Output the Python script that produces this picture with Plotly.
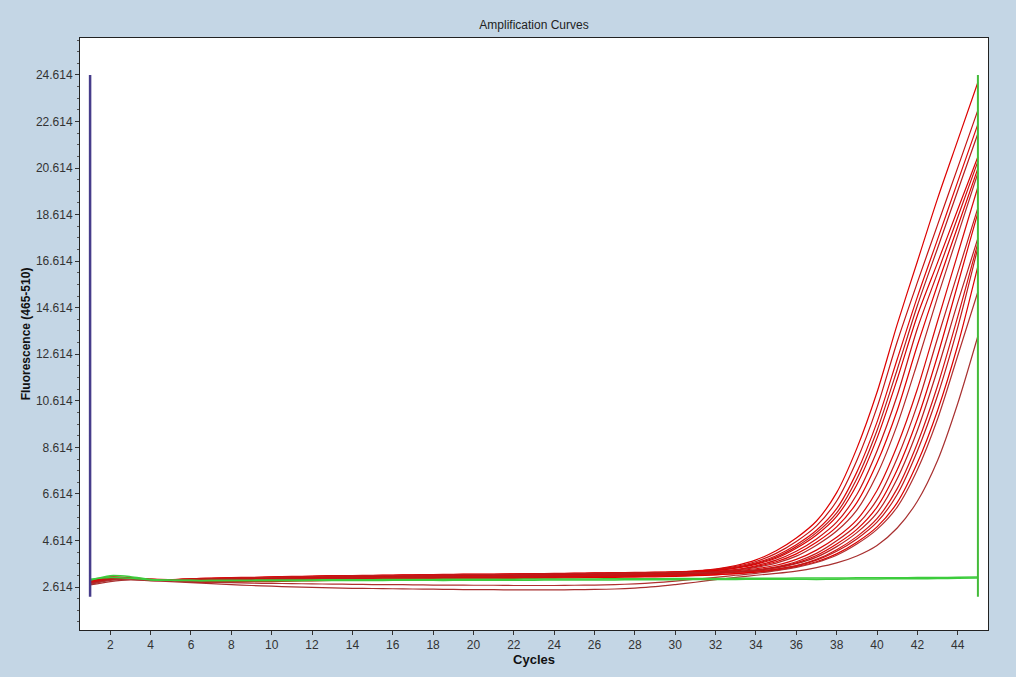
import plotly.graph_objects as go

cycles = list(range(1, 46))

red_curves = [
    [2.80, 2.98, 3.00, 2.94, 2.93, 2.96, 2.98, 3.00, 3.01, 3.03, 3.05, 3.06, 3.08, 3.09, 3.10, 3.11, 3.12, 3.13, 3.14, 3.15, 3.15, 3.16, 3.17, 3.18, 3.19, 3.20, 3.21, 3.22, 3.23, 3.25,
     3.31, 3.39, 3.54, 3.78, 4.17, 4.72, 5.45, 6.67, 8.57, 10.98, 13.90, 16.60, 19.30, 21.80, 24.30],
    [2.75, 2.95, 2.99, 2.93, 2.92, 2.93, 2.95, 2.97, 2.98, 3.00, 3.02, 3.03, 3.05, 3.06, 3.07, 3.08, 3.09, 3.10, 3.11, 3.12, 3.12, 3.13, 3.14, 3.15, 3.16, 3.17, 3.18, 3.19, 3.20, 3.22,
     3.29, 3.37, 3.50, 3.71, 4.06, 4.57, 5.24, 6.31, 8.05, 10.33, 13.15, 15.70, 18.17, 20.63, 23.10],
    [2.78, 2.97, 3.01, 2.95, 2.93, 2.97, 3.00, 3.02, 3.03, 3.05, 3.07, 3.08, 3.10, 3.11, 3.12, 3.13, 3.14, 3.15, 3.16, 3.17, 3.17, 3.18, 3.19, 3.20, 3.21, 3.22, 3.23, 3.24, 3.25, 3.27,
     3.30, 3.36, 3.46, 3.65, 3.96, 4.43, 5.05, 5.98, 7.55, 9.70, 12.40, 15.08, 17.55, 20.03, 22.50],
    [2.72, 2.93, 2.98, 2.92, 2.91, 2.90, 2.92, 2.94, 2.95, 2.97, 2.99, 3.00, 3.02, 3.03, 3.04, 3.05, 3.06, 3.07, 3.08, 3.09, 3.09, 3.10, 3.11, 3.12, 3.13, 3.14, 3.15, 3.16, 3.17, 3.19,
     3.25, 3.33, 3.44, 3.62, 3.90, 4.35, 4.95, 5.80, 7.27, 9.34, 11.96, 14.71, 17.17, 19.64, 22.10],
    [2.82, 2.99, 3.00, 2.93, 2.92, 2.95, 2.97, 2.99, 3.00, 3.02, 3.04, 3.05, 3.07, 3.08, 3.09, 3.10, 3.11, 3.12, 3.13, 3.14, 3.14, 3.15, 3.16, 3.17, 3.18, 3.19, 3.20, 3.21, 3.22, 3.24,
     3.27, 3.32, 3.42, 3.59, 3.85, 4.28, 4.85, 5.65, 7.01, 9.01, 11.54, 14.28, 16.55, 18.83, 21.10],
    [2.76, 2.94, 2.98, 2.92, 2.91, 2.88, 2.90, 2.92, 2.93, 2.95, 2.97, 2.98, 3.00, 3.01, 3.02, 3.03, 3.04, 3.05, 3.06, 3.07, 3.07, 3.08, 3.09, 3.10, 3.11, 3.12, 3.13, 3.14, 3.15, 3.17,
     3.21, 3.26, 3.35, 3.53, 3.77, 4.15, 4.68, 5.40, 6.59, 8.46, 10.84, 13.72, 16.11, 18.50, 20.90],
    [2.84, 3.00, 3.01, 2.94, 2.93, 2.97, 2.99, 3.01, 3.02, 3.04, 3.06, 3.07, 3.09, 3.10, 3.11, 3.12, 3.13, 3.14, 3.15, 3.16, 3.16, 3.17, 3.18, 3.19, 3.20, 3.21, 3.22, 3.23, 3.24, 3.26,
     3.27, 3.29, 3.36, 3.49, 3.70, 4.04, 4.54, 5.20, 6.24, 7.95, 10.20, 13.00, 15.60, 18.10, 20.60],
    [2.74, 2.96, 2.99, 2.93, 2.92, 2.91, 2.93, 2.95, 2.96, 2.98, 3.00, 3.01, 3.03, 3.04, 3.05, 3.06, 3.07, 3.08, 3.09, 3.10, 3.10, 3.11, 3.12, 3.13, 3.14, 3.15, 3.16, 3.17, 3.18, 3.20,
     3.22, 3.26, 3.34, 3.46, 3.64, 3.94, 4.41, 5.02, 5.92, 7.45, 9.58, 12.25, 15.07, 17.73, 20.40],
    [2.88, 3.03, 3.00, 2.93, 2.92, 2.92, 2.94, 2.96, 2.98, 3.00, 3.01, 3.03, 3.04, 3.06, 3.07, 3.08, 3.09, 3.10, 3.11, 3.11, 3.12, 3.13, 3.14, 3.15, 3.16, 3.17, 3.18, 3.19, 3.20, 3.21,
     3.23, 3.26, 3.31, 3.40, 3.55, 3.80, 4.20, 4.75, 5.50, 6.76, 8.68, 11.12, 14.03, 16.92, 19.80],
    [2.80, 2.97, 2.99, 2.92, 2.91, 2.86, 2.87, 2.89, 2.90, 2.92, 2.94, 2.95, 2.97, 2.98, 2.99, 3.00, 3.01, 3.02, 3.03, 3.04, 3.04, 3.05, 3.06, 3.07, 3.08, 3.09, 3.10, 3.11, 3.12, 3.14,
     3.17, 3.21, 3.27, 3.35, 3.48, 3.70, 4.06, 4.60, 5.28, 6.37, 8.15, 10.45, 13.30, 16.11, 18.90],
    [2.86, 3.02, 3.00, 2.93, 2.91, 2.85, 2.86, 2.87, 2.88, 2.90, 2.92, 2.93, 2.95, 2.96, 2.97, 2.98, 2.99, 3.00, 3.01, 3.02, 3.02, 3.03, 3.04, 3.05, 3.06, 3.07, 3.08, 3.09, 3.10, 3.12,
     3.15, 3.19, 3.25, 3.33, 3.45, 3.65, 3.97, 4.46, 5.09, 6.05, 7.65, 9.83, 12.55, 15.61, 18.70],
    [2.78, 2.96, 3.00, 2.94, 2.93, 2.96, 2.98, 3.00, 3.01, 3.03, 3.05, 3.06, 3.08, 3.09, 3.10, 3.11, 3.12, 3.13, 3.14, 3.15, 3.15, 3.16, 3.17, 3.18, 3.19, 3.20, 3.21, 3.22, 3.23, 3.24,
     3.24, 3.25, 3.27, 3.34, 3.44, 3.62, 3.90, 4.35, 4.95, 5.80, 7.27, 9.34, 11.96, 14.84, 17.60],
    [2.83, 3.00, 3.00, 2.93, 2.91, 2.83, 2.84, 2.85, 2.86, 2.88, 2.90, 2.91, 2.93, 2.94, 2.95, 2.96, 2.97, 2.98, 2.99, 3.00, 3.00, 3.01, 3.02, 3.03, 3.04, 3.05, 3.06, 3.07, 3.08, 3.10,
     3.12, 3.15, 3.19, 3.25, 3.37, 3.53, 3.80, 4.22, 4.78, 5.55, 6.84, 8.79, 11.26, 14.23, 17.40],
    [2.77, 2.95, 2.99, 2.93, 2.92, 2.88, 2.89, 2.91, 2.92, 2.94, 2.96, 2.97, 2.99, 3.00, 3.01, 3.02, 3.03, 3.04, 3.05, 3.06, 3.06, 3.07, 3.08, 3.09, 3.10, 3.11, 3.12, 3.13, 3.14, 3.16,
     3.18, 3.21, 3.25, 3.30, 3.39, 3.53, 3.77, 4.15, 4.68, 5.40, 6.59, 8.46, 10.84, 13.77, 17.20],
    [2.90, 3.05, 3.02, 2.93, 2.91, 2.82, 2.82, 2.83, 2.84, 2.85, 2.87, 2.88, 2.90, 2.91, 2.92, 2.93, 2.94, 2.95, 2.96, 2.97, 2.97, 2.98, 2.99, 3.00, 3.01, 3.02, 3.03, 3.04, 3.05, 3.07,
     3.10, 3.14, 3.19, 3.25, 3.34, 3.49, 3.70, 4.04, 4.54, 5.20, 6.24, 7.95, 10.20, 13.00, 16.40],
    [2.75, 2.90, 2.95, 2.90, 2.88, 2.85, 2.82, 2.80, 2.78, 2.77, 2.76, 2.75, 2.74, 2.73, 2.72, 2.72, 2.71, 2.70, 2.70, 2.69, 2.69, 2.68, 2.68, 2.68, 2.69, 2.70, 2.72, 2.75, 2.80, 2.87,
     2.95, 3.03, 3.12, 3.20, 3.32, 3.46, 3.67, 3.98, 4.46, 5.09, 6.05, 7.65, 9.83, 12.55, 15.30],
    [2.70, 2.85, 2.92, 2.88, 2.85, 2.80, 2.76, 2.72, 2.68, 2.65, 2.62, 2.60, 2.58, 2.56, 2.55, 2.54, 2.53, 2.52, 2.51, 2.50, 2.50, 2.49, 2.49, 2.49, 2.50, 2.51, 2.53, 2.57, 2.63, 2.72,
     2.82, 2.93, 3.03, 3.12, 3.20, 3.30, 3.45, 3.65, 3.95, 4.40, 5.15, 6.30, 8.05, 10.50, 13.40],
]

green_curves = [
    [2.90, 3.10, 3.06, 2.94, 2.91, 2.90, 2.90, 2.91, 2.91, 2.92, 2.92, 2.92, 2.93, 2.93, 2.93, 2.94, 2.94, 2.94, 2.95, 2.95, 2.95, 2.95, 2.96, 2.96, 2.96, 2.96, 2.97, 2.97, 2.97, 2.98,
     2.98, 2.98, 2.99, 2.99, 2.99, 3.00, 3.00, 3.00, 3.01, 3.01, 3.01, 3.02, 3.02, 3.03, 3.04],
    [2.95, 3.02, 2.99, 2.92, 2.90, 2.89, 2.88, 2.88, 2.88, 2.88, 2.88, 2.89, 2.89, 2.89, 2.89, 2.90, 2.90, 2.90, 2.90, 2.91, 2.91, 2.91, 2.91, 2.92, 2.92, 2.92, 2.92, 2.93, 2.93, 2.93,
     2.94, 2.94, 2.94, 2.95, 2.95, 2.95, 2.94, 2.95, 2.96, 2.96, 2.97, 2.97, 2.98, 2.99, 3.00],
]

red_colors = ["#dd0000", "#c41414", "#e00808", "#b81c1c", "#dc0000", "#c81010", "#e00000", "#b52828",
              "#d80808", "#c01c1c", "#dd0000", "#b82020", "#d41010", "#c01818", "#dd0000", "#b03030", "#a83030"]

# vertical cursor lines (cycle position and vertical extent)
start_cursor_cycle = [1, 1]
end_cursor_cycle = [45, 45]
cursor_extent = [2.2, 24.614]

y_ticks = [2.614, 4.614, 6.614, 8.614, 10.614, 12.614, 14.614, 16.614, 18.614, 20.614, 22.614, 24.614]
y_tick_text = ["2.614", "4.614", "6.614", "8.614", "10.614", "12.614", "14.614", "16.614", "18.614", "20.614", "22.614", "24.614"]
x_ticks = list(range(2, 45, 2))

for c in red_curves + green_curves:
    assert len(c) == len(cycles), len(c)

fig = go.Figure()
for i, ys in enumerate(red_curves):
    fig.add_trace(go.Scatter(x=cycles, y=ys, mode="lines",
                             line=dict(color=red_colors[i % len(red_colors)], width=1.2,
                                       shape="spline", smoothing=0.8),
                             hoverinfo="skip", showlegend=False))
for ys in green_curves:
    fig.add_trace(go.Scatter(x=cycles, y=ys, mode="lines",
                             line=dict(color="#3ccc3c", width=1.5, shape="spline", smoothing=0.8),
                             hoverinfo="skip", showlegend=False))

fig.add_trace(go.Scatter(x=start_cursor_cycle, y=cursor_extent, mode="lines",
                         line=dict(color="#463c8a", width=2.5), hoverinfo="skip", showlegend=False))
fig.add_trace(go.Scatter(x=end_cursor_cycle, y=cursor_extent, mode="lines",
                         line=dict(color="#44bb3a", width=2), hoverinfo="skip", showlegend=False))

fig.update_layout(
    width=1016, height=677,
    margin=dict(l=80, r=28, t=38, b=47),
    paper_bgcolor="#c4d6e5",
    plot_bgcolor="#ffffff",
    font=dict(family="Arial, Liberation Sans, sans-serif", size=12, color="#333333"),
    title=dict(text="Amplification Curves", x=0.5, xref="paper", xanchor="center",
               y=(677 - 25) / 677, yref="container", yanchor="middle",
               font=dict(family="Arial, Liberation Sans, sans-serif", size=12, color="#222222")),
    showlegend=False,
)

fig.update_xaxes(
    range=[0.5, 45.5], tickmode="array", tickvals=x_ticks,
    ticks="outside", ticklen=4, tickcolor="#333333",
    showline=True, linecolor="#222222", linewidth=1, mirror=True,
    showgrid=False, zeroline=False,
    tickfont=dict(size=12, color="#333333"),
    title=dict(text="<b>Cycles</b>", standoff=2,
               font=dict(size=13, color="#111111")),
)
fig.update_yaxes(
    range=[0.768, 26.2], tickmode="array", tickvals=y_ticks, ticktext=y_tick_text,
    ticks="outside", ticklen=4, tickcolor="#333333",
    minor=dict(ticks="outside", ticklen=2, tick0=2.614, dtick=0.5, tickcolor="#555555", showgrid=False),
    showline=True, linecolor="#222222", linewidth=1, mirror=True,
    showgrid=False, zeroline=False,
    tickfont=dict(size=12, color="#333333"),
    title=dict(text="<b>Fluorescence (465-510)</b>", standoff=2,
               font=dict(size=12, color="#111111")),
)

fig.write_html("out.html", config={"displayModeBar": False},
               post_script="document.body.style.margin='0';document.body.style.overflow='hidden';")
